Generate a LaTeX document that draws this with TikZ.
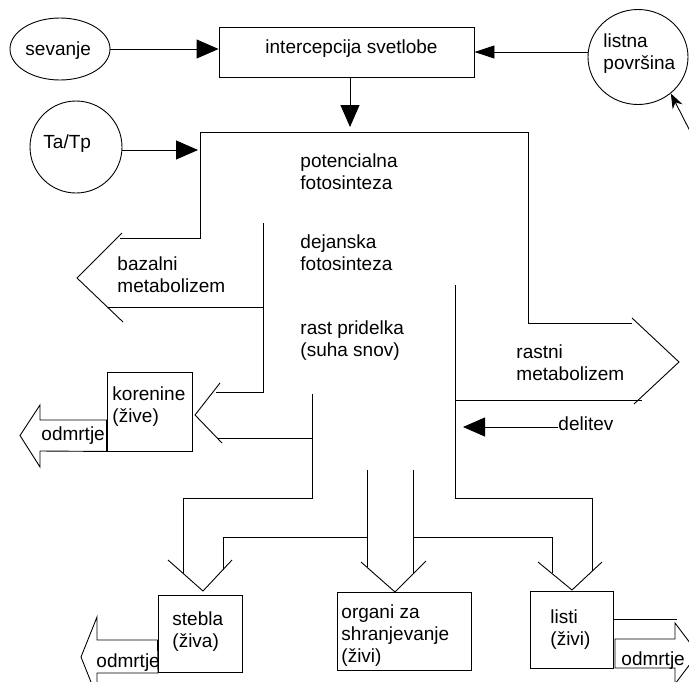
\documentclass[tikz,border=0pt]{standalone}
\usepackage{fontspec}
\setmainfont{Liberation Sans}
\usetikzlibrary{arrows.meta,shapes.geometric}

\begin{document}
\begin{tikzpicture}[x=1pt,y=-1pt,line width=0.9pt,
        every node/.style={font=\fontsize{19}{22}\selectfont},
        txt/.style={anchor=north west,inner sep=0pt,align=left},
        box/.style={draw,rectangle,inner sep=0pt},
        bigtip/.style={-{Triangle[length=22pt,width=19pt]}},
        smalltip/.style={-{Triangle[length=20pt,width=13pt]}}]
        \useasboundingbox (0,0) rectangle (689,681);
        \fill[white] (0,0) rectangle (689,681);
        \clip (0,0) rectangle (689,681);

        % the inputs and the boxes
        \node[draw,ellipse,minimum width=100pt,minimum height=62pt,inner sep=0pt] (sev) at (60,49) {};
        \node[draw,circle,minimum size=92pt,inner sep=0pt] (ta) at (76,147) {};
        \node[draw,ellipse,minimum width=100pt,minimum height=95pt,inner sep=0pt] (lis) at (638,57) {};
        \node[box,minimum width=255pt,minimum height=50pt] (int) at (346.5,52) {};
        \node[box,minimum width=85pt,minimum height=79pt] (kor) at (149.5,411.5) {};
        \node[box,minimum width=84pt,minimum height=77pt] (stb) at (200,633.5) {};
        \node[box,minimum width=134pt,minimum height=78pt] (org) at (404,631) {};
        \node[box,minimum width=83pt,minimum height=77pt] (lst) at (571.5,629.5) {};

        % the texts
        \node[txt] (intT) at (265,39.4) {intercepcija svetlobe};
        \node[txt] (sevT) at (25,41.4) {sevanje};
        \node[txt] (taT) at (43,134.4) {Ta/Tp};
        \node[txt] (lisT) at (603,33.4) {listna\\površina};
        \node[txt] (potT) at (300,153.4) {potencialna\\fotosinteza};
        \node[txt] (dejT) at (300,234.4) {dejanska\\fotosinteza};
        \node[txt] (rastT) at (300,320.4) {rast pridelka\\(suha snov)};
        \node[txt] (bazT) at (117,256.4) {bazalni\\metabolizem};
        \node[txt] (rmT) at (516,344.4) {rastni\\metabolizem};
        \node[txt] (delT) at (558,416.4) {delitev};
        \node[txt] (korT) at (112,386.4) {korenine\\(žive)};
        \node[txt] (stbT) at (172,611.4) {stebla\\(živa)};
        \node[txt] (orgT) at (341,604.4) {organi za\\shranjevanje\\(živi)};
        \node[txt] (lstT) at (550,609.4) {listi\\(živi)};

        % points where the arrows end
        \coordinate (pTL) at (198,150);
        \coordinate (pTop) at (350,127);
        \coordinate (pDel) at (463,427);
        \coordinate (pLa) at (693,137);

        % the arrows
        \draw[bigtip] (sev.east) -- (sev.east -| int.west);
        \draw[smalltip] (lis.west |- int.east) -- (int.east);
        \draw[bigtip] (ta.east |- pTL) -- (pTL);
        \draw[bigtip] (int.south -| pTop) -- (pTop);
        \draw[bigtip] (delT.west |- pDel) -- (pDel);
        \draw[-{Stealth[length=15pt,width=11pt]}] (pLa) -- (lis.-48);

        % the flow of dry matter
        \draw (120,238) -- (200,238) -- (200,132) -- (528,132) -- (528,323) -- (632,323);
        \draw (632,318) -- (679,362) -- (634,404);
        \draw (455,400) -- (642,400);
        \draw (455,285) -- (455,498) -- (592,498) -- (592,571);
        \draw (122,233) -- (77,278) -- (123,322);
        \draw (108,307) -- (263,307);
        \draw (263,223) -- (263,392) -- (216,392);
        \draw (220,383) -- (195,415) -- (222,443);
        \draw (217,438) -- (312,438);
        \draw (312,394) -- (312,498) -- (183,498) -- (183,573);
        \draw (168,560) -- (203,591) -- (232,560);
        \draw (223,570) -- (223,537) -- (367,537);
        \draw (367,470) -- (367,567);
        \draw (413,470) -- (413,573);
        \draw (361,562) -- (395,592) -- (426,561);
        \draw (413,537) -- (552,537) -- (552,573);
        \draw (538,562) -- (572,590) -- (602,562);

        % dying parts
        \draw (kor.west |- 0,420) -- (40,420) -- (40,405) -- (20,435.5) -- (40,467) -- (40,451) -- (kor.south west) -- cycle;
        \draw (stb.west |- 0,640) -- (97,640) -- (97,617) -- (81,657) -- (97,697) -- (97,673) -- (158,673) -- cycle;
        \draw (615,639) -- (675,639) -- (675,623) -- (698,653.5) -- (675,684) -- (675,668) -- (615,668) -- cycle;
        \draw (lst.east |- 0,619) -- (677,619);
        \node[txt] (od1T) at (41,426.4) {odmrtje};
        \node[txt] (od2T) at (96,653.4) {odmrtje};
        \node[txt] (od3T) at (621,651.4) {odmrtje};
\end{tikzpicture}
\end{document}
